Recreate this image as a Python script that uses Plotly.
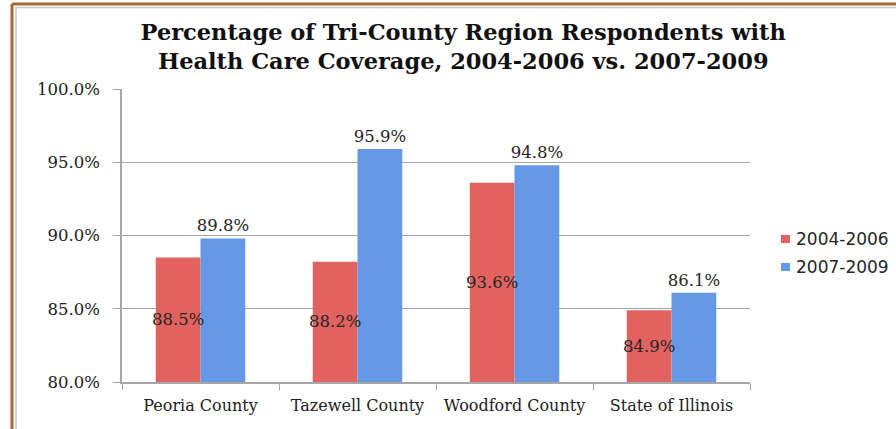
import plotly.graph_objects as go

categories = ["Peoria County", "Tazewell County", "Woodford County", "State of Illinois"]
series_names = ["2004-2006", "2007-2009"]
values_2004_2006 = [88.5, 88.2, 93.6, 84.9]
values_2007_2009 = [89.8, 95.9, 94.8, 86.1]
y_ticks = [80, 85, 90, 95, 100]
y_tick_labels = ["80.0%", "85.0%", "90.0%", "95.0%", "100.0%"]
series_colors = ["#E2625F", "#6599E6"]

W, H = 896, 429
L, R, T, B = 122, 146, 89, 47
pw, ph = W - L - R, H - T - B
BARGAP = 0.43

def px_x(p):
    return (p - L) / pw

def px_y(p):
    return (H - B - p) / ph

fig = go.Figure()
fig.add_trace(go.Bar(
    name=series_names[0], x=categories, y=values_2004_2006,
    marker=dict(color=series_colors[0], line=dict(width=0)),
    textposition="none",
))
fig.add_trace(go.Bar(
    name=series_names[1], x=categories, y=values_2007_2009,
    marker=dict(color=series_colors[1], line=dict(width=0)),
    text=[f"{v:.1f}%" for v in values_2007_2009],
    textposition="outside", textangle=0, constraintext="none",
    textfont=dict(family="DejaVu Serif", size=16.5, color="#262626"),
    cliponaxis=False,
))

# labels of the first series sit at the middle of the visible part of each bar
bar_px = pw / len(categories) * (1 - BARGAP) / 2
annotations = [
    dict(x=c, y=(y_ticks[0] + v) / 2, xref="x", yref="y", text=f"{v:.1f}%",
         showarrow=False, xshift=-bar_px / 2,
         font=dict(family="DejaVu Serif", size=16.5, color="#262626"))
    for c, v in zip(categories, values_2004_2006)
]

shapes = [
    dict(type="line", xref="paper", yref="paper", x0=px_x(12), x1=px_x(12), y0=px_y(4), y1=px_y(440),
         line=dict(color="#A8683A", width=3)),
    dict(type="line", xref="paper", yref="paper", x0=px_x(12), x1=px_x(900), y0=px_y(4), y1=px_y(4),
         line=dict(color="#A8683A", width=3)),
    dict(type="line", xref="paper", yref="paper", x0=px_x(16), x1=px_x(16), y0=px_y(7), y1=px_y(440),
         line=dict(color="#C8C8C8", width=1.5)),
    dict(type="line", xref="paper", yref="paper", x0=px_x(16), x1=px_x(900), y0=px_y(7.5), y1=px_y(7.5),
         line=dict(color="#C8C8C8", width=1.5)),
]

# hand-built legend (keeps the plot area from shrinking)
legend_rows_px = [239, 267]
for name, color, row in zip(series_names, series_colors, legend_rows_px):
    shapes.append(dict(type="rect", xref="paper", yref="paper",
                       x0=px_x(781), x1=px_x(790), y0=px_y(row + 4), y1=px_y(row - 4),
                       fillcolor=color, line=dict(width=0)))
    annotations.append(dict(x=px_x(794), y=px_y(row), xref="paper", yref="paper",
                            xanchor="left", yanchor="middle", text=name, showarrow=False,
                            font=dict(family="DejaVu Sans", size=17, color="#262626")))

fig.update_layout(
    width=W, height=H,
    margin=dict(l=L, r=R, t=T, b=B),
    paper_bgcolor="white", plot_bgcolor="white",
    barmode="group", bargap=BARGAP, bargroupgap=0,
    title=dict(
        text="Percentage of Tri-County Region Respondents with<br>Health Care Coverage, 2004-2006 vs. 2007-2009",
        x=0.517, xanchor="center", xref="container",
        y=1 - 40 / H, yanchor="middle", yref="container",
        font=dict(family="DejaVu Serif", size=22.5, color="#111111", weight="bold"),
    ),
    font=dict(family="DejaVu Serif", color="#222222"),
    xaxis=dict(
        showgrid=False, showline=True, linecolor="#A6A6A6", linewidth=1.5,
        ticks="outside", tickson="boundaries", ticklen=6, tickcolor="#A6A6A6",
        tickfont=dict(family="DejaVu Serif", size=16, color="#222222"),
        ticklabelstandoff=8,
    ),
    yaxis=dict(
        range=[y_ticks[0], y_ticks[-1]], tickvals=y_ticks, ticktext=y_tick_labels,
        showgrid=True, gridcolor="#A6A6A6", gridwidth=1,
        showline=True, linecolor="#A6A6A6", linewidth=1.5,
        ticks="outside", ticklen=7, tickcolor="#A6A6A6",
        tickfont=dict(family="DejaVu Serif", size=16.5, color="#222222"),
        ticklabelstandoff=10,
        zeroline=False,
    ),
    annotations=annotations,
    shapes=shapes,
    showlegend=False,
)

fig.write_html("out.html", config={"displayModeBar": False},
               post_script="document.body.style.margin='0';document.body.style.overflow='hidden';")
